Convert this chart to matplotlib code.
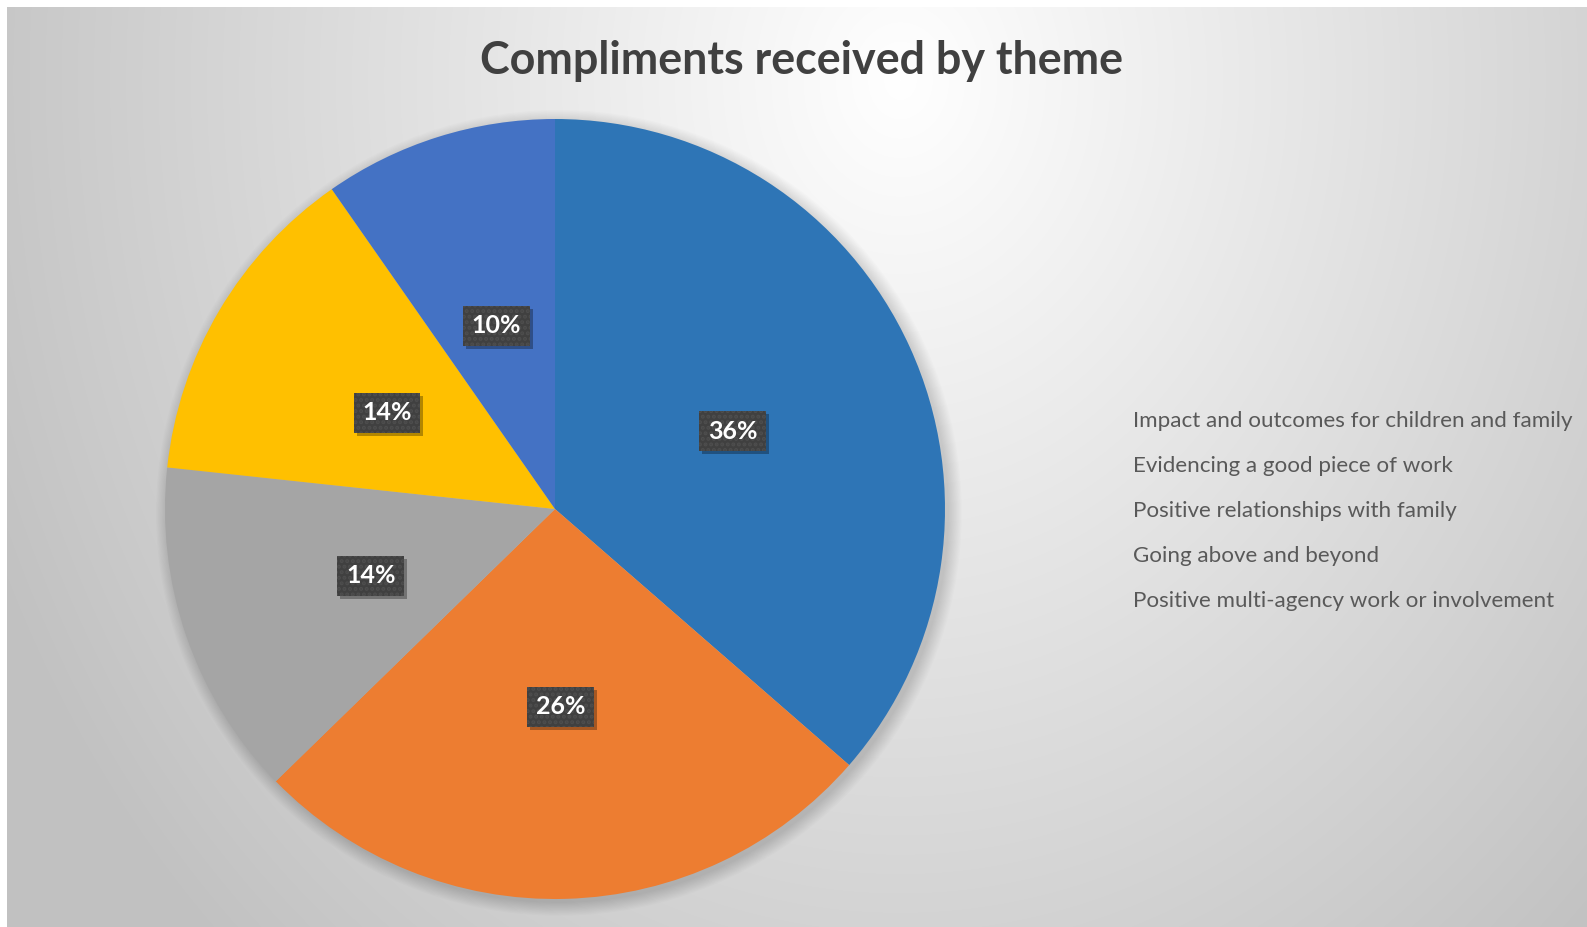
import numpy as np
import matplotlib
matplotlib.use("Agg")
import matplotlib.pyplot as plt
from matplotlib.patches import Circle
from matplotlib.transforms import offset_copy

# share of compliments per theme (percent)
themes = [
    "Impact and outcomes for children and family",
    "Evidencing a good piece of work",
    "Positive relationships with family",
    "Going above and beyond",
    "Positive multi-agency work or involvement",
]
shares = [36.4, 26.3, 14.0, 13.6, 9.7]
colors = ["#2E75B6", "#ED7D31", "#A5A5A5", "#FFC000", "#4472C4"]

W, H = 1587, 927
fig = plt.figure(figsize=(W / 100, H / 100), dpi=100, facecolor="white")

# radial grey background, brightest just below the title
bg = fig.add_axes([7 / W, 0, 1 - 7 / W, 1 - 7 / H])
bg.set_axis_off()
yy, xx = np.mgrid[7:H, 7:W]
d = np.hypot(xx - 900, (yy - 80) / 1.2)
shade = (255 - 62 * np.clip(d / 1000, 0, 1)) / 255
bg.imshow(np.dstack([shade] * 3), extent=[0, 1, 0, 1], aspect="auto", zorder=0)

# pie axes: centre (555, 509), radius 390 px
cx, cy, r = 555, 509, 390
ax = fig.add_axes([(cx - r) / W, (H - cy - r) / H, 2 * r / W, 2 * r / H])
ax.set_axis_off()

# soft shadow round the pie, falling to the lower right
for k in range(12):
    ax.add_patch(Circle((0.01, -0.01), 1 + k * 0.003, color="black",
                        alpha=0.013, lw=0, zorder=0, clip_on=False))

wedges, texts, autotexts = ax.pie(
    shares, colors=colors, startangle=90, counterclock=False,
    autopct="%.0f%%", pctdistance=0.5,
    wedgeprops=dict(linewidth=0, zorder=2),
)
ax.set_xlim(-1, 1)
ax.set_ylim(-1, 1)
ax.set_aspect("equal")

plt.rcParams["hatch.linewidth"] = 2.0
label_tf = offset_copy(ax.transData, fig, x=0, y=-3, units="dots")
shadow_tf = offset_copy(ax.transData, fig, x=3, y=-6, units="dots")
for at in autotexts:
    x, y = at.get_position()
    # drop shadow behind the label box
    ax.text(x, y, at.get_text(), ha="center", va="center", fontsize=18,
            fontweight="bold", family="Lato", color=(0, 0, 0, 0), zorder=3,
            transform=shadow_tf,
            bbox=dict(boxstyle="square,pad=0.34", fc="black", ec="none", alpha=0.3))
    at.set(fontsize=18, fontweight="bold", family="Lato", color="white", zorder=4,
           transform=label_tf)
    at.set_bbox(dict(boxstyle="square,pad=0.34", fc="#404040", ec="#4E4E4E",
                     lw=0, hatch="..."))

fig.text(802 / W, 1 - 61 / H, "Compliments received by theme", ha="center",
         va="center", fontsize=32.3, fontweight="bold", family="Lato", color="#404040")

for i, name in enumerate(themes):
    fig.text(1133 / W, 1 - (421 + 45 * i) / H, name, ha="left", va="center",
             fontsize=16.1, family="Lato", color="#595959")

fig.savefig("out.png", dpi=100, facecolor="white")
